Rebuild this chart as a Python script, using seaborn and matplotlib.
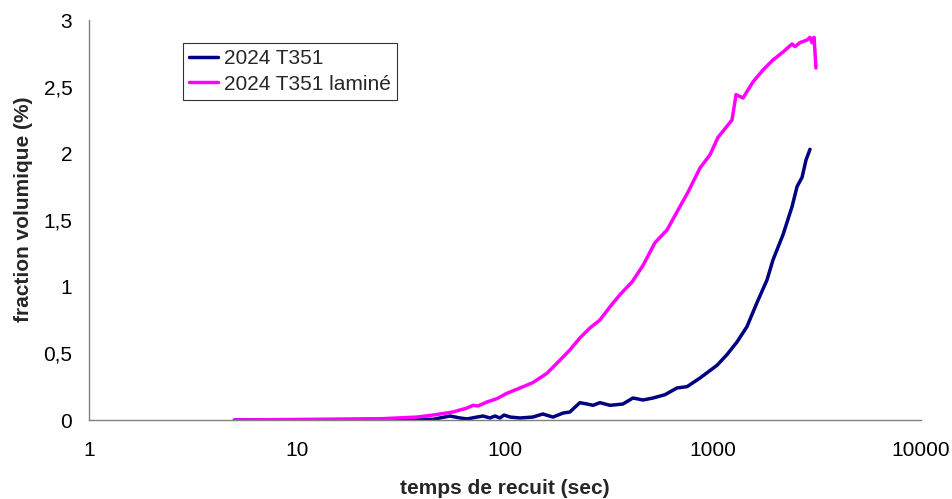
import numpy as np
import pandas as pd
import matplotlib
matplotlib.use("Agg")
import matplotlib.pyplot as plt
import seaborn as sns
from matplotlib.ticker import FixedLocator, FuncFormatter, NullLocator

# 2024 T351 (navy)
t_brut = [5, 10, 18, 31, 45, 54.4, 60.8, 65.7, 73.3, 78.4, 84.7, 89.5, 94.6, 98.9,
          106, 118, 136, 152, 170, 190, 205, 229, 248, 265, 286, 320, 369, 412,
          461, 515, 588, 671, 750, 866, 1045, 1167, 1304, 1456, 1627, 1818, 1942,
          2171, 2399, 2535, 2680, 2800, 2926]
f_brut = [0, 0.002, 0.004, 0.005, 0.005, 0.03, 0.015, 0.008, 0.022, 0.03, 0.015,
          0.03, 0.015, 0.037, 0.022, 0.015, 0.022, 0.045, 0.022, 0.052, 0.06, 0.13,
          0.12, 0.11, 0.13, 0.11, 0.12, 0.165, 0.15, 0.165, 0.19, 0.24, 0.25, 0.315,
          0.41, 0.49, 0.585, 0.70, 0.88, 1.05, 1.2, 1.39, 1.6, 1.75, 1.82, 1.95, 2.03]

# 2024 T351 laminé (magenta)
t_lam = [5, 10, 14.9, 25.9, 37.7, 45.1, 56.2, 65.7, 70.2, 74.1, 81.9, 91.5, 102,
         118, 136, 159, 184, 205, 229, 256, 286, 320, 357, 408, 461, 526, 601,
         671, 759, 866, 968, 1057, 1234, 1291, 1394, 1556, 1739, 1942, 2171, 2399,
         2478, 2618, 2830, 2926, 2992, 3061, 3127]
f_lam = [0, 0.004, 0.005, 0.01, 0.022, 0.037, 0.06, 0.09, 0.11, 0.105, 0.135, 0.16,
         0.2, 0.24, 0.28, 0.35, 0.45, 0.525, 0.615, 0.69, 0.75, 0.85, 0.94, 1.035,
         1.16, 1.33, 1.425, 1.56, 1.71, 1.89, 1.99, 2.12, 2.25, 2.44, 2.415, 2.535,
         2.625, 2.70, 2.76, 2.82, 2.80, 2.83, 2.85, 2.87, 2.83, 2.87, 2.64]

x_ticks = [1, 10, 100, 1000, 10000]
y_ticks = [0, 0.5, 1, 1.5, 2, 2.5, 3]

sns.set_style("white")
plt.rcParams['font.family'] = ['Liberation Sans', 'DejaVu Sans']

fig = plt.figure(figsize=(9.52, 4.99), dpi=100)
ax = fig.add_axes([89 / 952, 79 / 499, 832 / 952, 400 / 499])

sns.lineplot(x=t_brut, y=f_brut, ax=ax, color='#000080', linewidth=2.5,
             sort=False, estimator=None, label='2024 T351')
sns.lineplot(x=t_lam, y=f_lam, ax=ax, color='#FF00FF', linewidth=2.5,
             sort=False, estimator=None, label='2024 T351 laminé')

ax.set_xscale('log')
ax.set_xlim(1, 10000)
ax.set_ylim(0, 3)
ax.xaxis.set_major_locator(FixedLocator(x_ticks))
ax.xaxis.set_minor_locator(NullLocator())
ax.xaxis.set_major_formatter(FuncFormatter(lambda v, p: f"{int(round(v))}"))
ax.yaxis.set_major_locator(FixedLocator(y_ticks))
ax.yaxis.set_major_formatter(FuncFormatter(lambda v, p: f"{v:g}".replace('.', ',')))

for side in ['top', 'right']:
    ax.spines[side].set_visible(False)
for side in ['left', 'bottom']:
    ax.spines[side].set_color('#808080')
    ax.spines[side].set_linewidth(1.0)

ax.tick_params(axis='both', which='major', direction='out', length=5, width=1,
               color='#404040', labelsize=15, labelcolor='black')
ax.tick_params(axis='x', pad=10)
ax.tick_params(axis='y', pad=7)

ax.set_xlabel('temps de recuit (sec)', fontsize=15, fontweight='bold', labelpad=14)
ax.set_ylabel('fraction volumique (%)', fontsize=15, fontweight='bold')
ax.yaxis.set_label_coords(-0.067, 0.527)

leg = ax.legend(loc='upper left', bbox_to_anchor=(0.113, 0.9425), fontsize=15,
                frameon=True, fancybox=False, handlelength=1.4, handletextpad=0.25,
                borderpad=0.3, labelspacing=0.3, borderaxespad=0)
leg.get_frame().set_edgecolor('black')
leg.get_frame().set_linewidth(0.8)

fig.savefig('out.png', dpi=100)
